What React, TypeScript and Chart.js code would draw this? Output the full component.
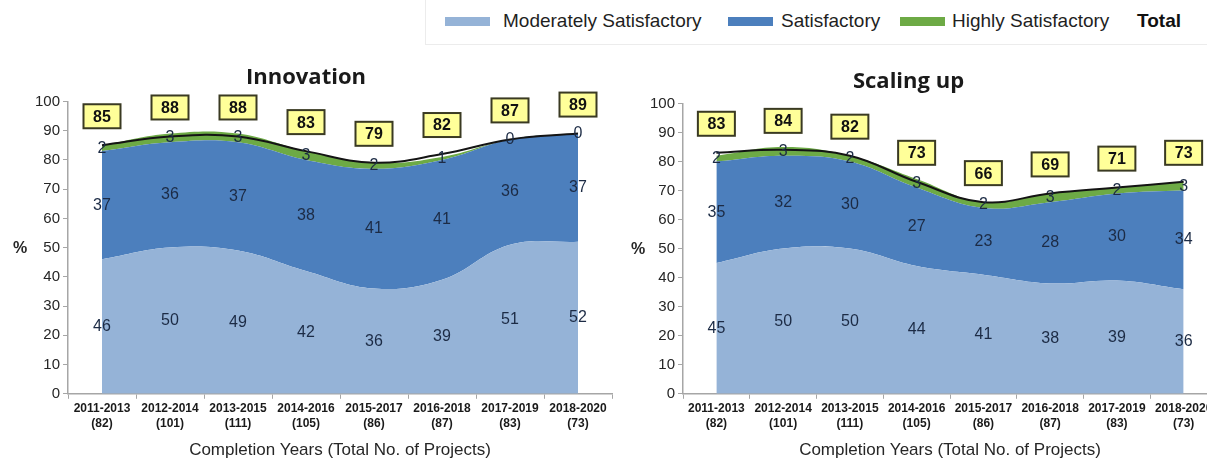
import { useEffect, useRef } from "react";
import { Chart, registerables } from "chart.js";

Chart.register(...registerables);

// Completion periods (x categories) and number of projects per period
const periods = ["2011-2013", "2012-2014", "2013-2015", "2014-2016", "2015-2017", "2016-2018", "2017-2019", "2018-2020"];
const projectCounts = ["(82)", "(101)", "(111)", "(105)", "(86)", "(87)", "(83)", "(73)"];

// Innovation ratings, % of projects
const innovationModerate = [46, 50, 49, 42, 36, 39, 51, 52];
const innovationSatisfactory = [37, 36, 37, 38, 41, 41, 36, 37];
const innovationHighly = [2, 3, 3, 3, 2, 1, 0, 0];
const innovationTotal = [85, 88, 88, 83, 79, 82, 87, 89];

// Scaling up ratings, % of projects
const scalingModerate = [45, 50, 50, 44, 41, 38, 39, 36];
const scalingSatisfactory = [35, 32, 30, 27, 23, 28, 30, 34];
const scalingHighly = [2, 3, 2, 3, 2, 3, 2, 3];
const scalingTotal = [83, 84, 82, 73, 66, 69, 71, 73];

const seriesNames = ["Moderately Satisfactory", "Satisfactory", "Highly Satisfactory", "Total"];
const yTicks = [0, 10, 20, 30, 40, 50, 60, 70, 80, 90, 100];
const xAxisTitle = "Completion Years (Total No. of Projects)";

const COLORS = {
  moderate: "#95B3D7",
  satisfactory: "#4C7FBD",
  highly: "#6DAA45",
  total: "#141414",
  axis: "#a6a6a6",
  text: "#262626",
  label: "#1c2b45",
  boxFill: "#FFFF99",
  boxStroke: "#3a3a22",
};

const SANS = "'Liberation Sans', Arial, sans-serif";

// Draws the segment values, the boxed totals and the horizontal "%" axis label
const valueLabels = {
  id: "valueLabels",
  afterDatasetsDraw(chart: any, _args: any, opts: any) {
    const { ctx, chartArea } = chart;
    const x = chart.scales.x;
    const y = chart.scales.y;
    const ratingSets = chart.data.datasets.filter((d: any) => d.stack === "rating");
    const totalSet = chart.data.datasets.find((d: any) => d.stack === "total");
    const n = chart.data.labels.length;
    ctx.save();
    ctx.textAlign = "center";
    ctx.textBaseline = "middle";
    ctx.font = `16px ${SANS}`;
    ctx.fillStyle = COLORS.label;
    for (let i = 0; i < n; i++) {
      let base = 0;
      const cx = x.getPixelForValue(i);
      ratingSets.forEach((ds: any) => {
        const v = ds.data[i] as number;
        ctx.fillText(String(v), cx, y.getPixelForValue(base + v / 2));
        base += v;
      });
    }
    if (totalSet) {
      const w = 37;
      const h = 24;
      ctx.font = `bold 16px ${SANS}`;
      for (let i = 0; i < n; i++) {
        const v = totalSet.data[i] as number;
        const cx = x.getPixelForValue(i);
        const cy = y.getPixelForValue(v) - opts.boxGap;
        ctx.fillStyle = COLORS.boxFill;
        ctx.fillRect(cx - w / 2, cy - h / 2, w, h);
        ctx.lineWidth = 2;
        ctx.strokeStyle = COLORS.boxStroke;
        ctx.strokeRect(cx - w / 2, cy - h / 2, w, h);
        ctx.fillStyle = "#111";
        ctx.fillText(String(v), cx, cy + 1);
      }
    }
    ctx.font = `bold 16px ${SANS}`;
    ctx.fillStyle = COLORS.text;
    ctx.fillText("%", chartArea.left - opts.percentOffset, y.getPixelForValue(50) + 1);
    ctx.restore();
  },
};

type RatingChartProps = {
  title: string;
  moderate: number[];
  satisfactory: number[];
  highly: number[];
  total: number[];
  width: number;
  yAxisWidth: number;
  padRight: number;
  titleTop: number;
  titleBottom: number;
  percentOffset: number;
};

function RatingChart(p: RatingChartProps) {
  const ref = useRef<HTMLCanvasElement>(null);

  useEffect(() => {
    if (!ref.current) return;
    const area = (label: string, data: number[], color: string, fill: any) => ({
      label,
      data,
      stack: "rating",
      backgroundColor: color,
      borderColor: color,
      borderWidth: 0,
      pointRadius: 0,
      tension: 0.4,
      fill,
    });
    const chart = new Chart(ref.current, {
      type: "line",
      data: {
        labels: periods.map((period, i) => [period, projectCounts[i]]),
        datasets: [
          area(seriesNames[0], p.moderate, COLORS.moderate, "origin"),
          area(seriesNames[1], p.satisfactory, COLORS.satisfactory, "-1"),
          area(seriesNames[2], p.highly, COLORS.highly, "-1"),
          {
            label: seriesNames[3],
            data: p.total,
            stack: "total",
            order: -1,
            borderColor: COLORS.total,
            borderWidth: 2,
            pointRadius: 0,
            tension: 0.4,
            fill: false,
          },
        ],
      } as any,
      options: {
        responsive: false,
        animation: false,
        layout: { padding: { left: 0, right: p.padRight, top: 0, bottom: 0 } },
        plugins: {
          legend: { display: false },
          tooltip: { enabled: false },
          title: {
            display: true,
            text: p.title,
            color: "#1a1a1a",
            font: { family: "'Open Sans', sans-serif", size: 22, weight: "bold", lineHeight: 1.2 },
            padding: { top: p.titleTop, bottom: p.titleBottom },
          },
          valueLabels: { boxGap: 29, percentOffset: p.percentOffset },
        } as any,
        scales: {
          x: {
            type: "category",
            offset: true,
            grid: {
              display: true,
              offset: true,
              drawOnChartArea: false,
              drawTicks: true,
              tickLength: 5,
              color: COLORS.axis,
            },
            border: { display: true, color: COLORS.axis, width: 1.5 },
            ticks: {
              autoSkip: false,
              maxRotation: 0,
              padding: 3,
              color: "#1a1a1a",
              font: { family: SANS, size: 12, weight: "bold", lineHeight: 1.2 },
            },
            title: {
              display: true,
              text: xAxisTitle,
              color: COLORS.text,
              font: { family: SANS, size: 17, lineHeight: 1.2 },
              padding: { top: 7, bottom: 6 },
            },
          },
          y: {
            stacked: true,
            min: 0,
            max: 100,
            afterFit: (scale: any) => {
              scale.width = p.yAxisWidth;
            },
            afterBuildTicks: (scale: any) => {
              scale.ticks = yTicks.map((v) => ({ value: v }));
            },
            grid: {
              display: true,
              drawOnChartArea: false,
              drawTicks: true,
              tickLength: 5,
              color: COLORS.axis,
            },
            border: { display: true, color: COLORS.axis, width: 1.5 },
            ticks: {
              padding: 3,
              color: COLORS.text,
              font: { family: SANS, size: 15 },
            },
          },
        },
      } as any,
      plugins: [valueLabels],
    });
    return () => chart.destroy();
  }, []);

  return <canvas ref={ref} width={p.width} height={467} style={{ display: "block" }} />;
}

const legendItems = [
  { name: seriesNames[0], color: COLORS.moderate, swatchX: 445, textX: 503 },
  { name: seriesNames[1], color: COLORS.satisfactory, swatchX: 728, textX: 781 },
  { name: seriesNames[2], color: COLORS.highly, swatchX: 900, textX: 952 },
];

export default function App() {
  return (
    <div
      style={{
        position: "absolute",
        left: 0,
        top: 0,
        width: 1207,
        height: 467,
        overflow: "hidden",
        background: "#ffffff",
        fontFamily: SANS,
      }}
    >
      <div
        style={{
          position: "absolute",
          left: 425,
          top: -1,
          width: 800,
          height: 45,
          borderLeft: "1px solid #ececec",
          borderBottom: "1px solid #ececec",
        }}
      />
      {legendItems.map((item) => (
        <div key={item.name}>
          <div
            style={{
              position: "absolute",
              left: item.swatchX,
              top: 17,
              width: 45,
              height: 9,
              background: item.color,
            }}
          />
          <div
            style={{
              position: "absolute",
              left: item.textX,
              top: 10,
              fontSize: 19,
              lineHeight: "22px",
              color: "#1f1f1f",
              whiteSpace: "nowrap",
            }}
          >
            {item.name}
          </div>
        </div>
      ))}
      <div
        style={{
          position: "absolute",
          left: 1137,
          top: 10,
          fontSize: 19,
          lineHeight: "22px",
          fontWeight: "bold",
          color: "#111",
        }}
      >
        {seriesNames[3]}
      </div>

      <div style={{ position: "absolute", left: 0, top: 0 }}>
        <RatingChart
          title="Innovation"
          moderate={innovationModerate}
          satisfactory={innovationSatisfactory}
          highly={innovationHighly}
          total={innovationTotal}
          width={636}
          yAxisWidth={68}
          padRight={24}
          titleTop={65}
          titleBottom={10}
          percentOffset={48}
        />
      </div>
      <div style={{ position: "absolute", left: 600, top: 0 }}>
        <RatingChart
          title="Scaling up"
          moderate={scalingModerate}
          satisfactory={scalingSatisfactory}
          highly={scalingHighly}
          total={scalingTotal}
          width={624}
          yAxisWidth={83}
          padRight={7}
          titleTop={69}
          titleBottom={8}
          percentOffset={45}
        />
      </div>
    </div>
  );
}
